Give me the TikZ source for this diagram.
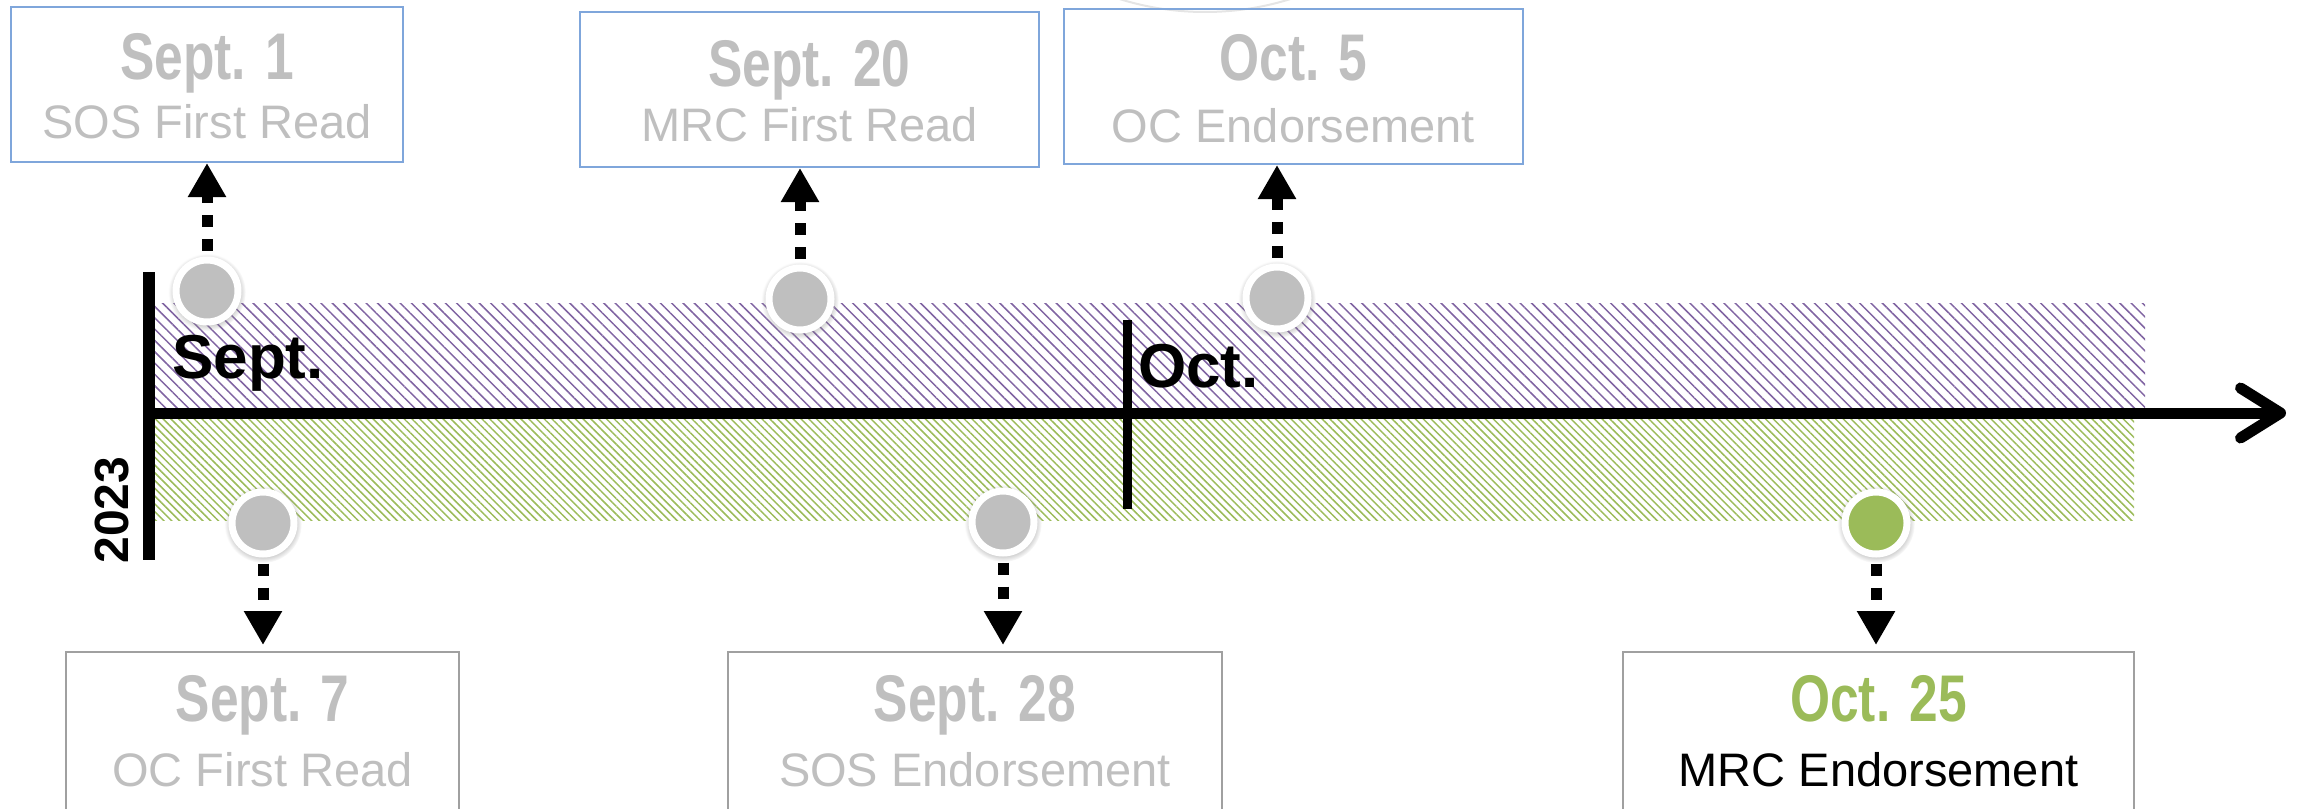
\documentclass[tikz,border=0pt]{standalone}
\usepackage{fontspec}
\setmainfont{Liberation Sans}
\newfontfamily\narrowfont[FakeStretch=0.78]{Liberation Sans}
\usepackage{tikz}
\usetikzlibrary{arrows.meta}
\usetikzlibrary{patterns.meta}
\usetikzlibrary{shadows}

\definecolor{dotgray}{HTML}{BFBFBF}
\definecolor{boxblue}{HTML}{7FA6DB}
\definecolor{boxgray}{HTML}{A0A0A0}
\definecolor{octgreen}{HTML}{9BBB59}
\definecolor{septpurple}{HTML}{8064A2}

\tikzset{
  topbox/.style={draw=boxblue, line width=2pt, minimum height=155pt, inner sep=0pt},
  botbox/.style={draw=boxgray, line width=2pt, minimum height=160pt, inner sep=0pt},
  dot/.style={circle, fill=dotgray, draw=white, line width=7pt, minimum size=62pt, inner sep=0pt,
    circular drop shadow={shadow scale=1.25, shadow xshift=0pt, shadow yshift=-1pt, opacity=.35}},
  datetext/.style={anchor=base, inner sep=0pt, text=dotgray, font=\narrowfont\bfseries\fontsize{66}{70}\selectfont},
  eventtext/.style={anchor=base, inner sep=0pt, text=dotgray, font=\fontsize{47}{52}\selectfont},
  link/.style={line width=11pt, dash pattern=on 12pt off 12pt, -{Triangle[length=34pt, width=36pt]}},
  month/.style={anchor=base west, inner sep=0pt, font=\bfseries\fontsize{62}{64}\selectfont},
}

\begin{document}
\begin{tikzpicture}[x=1pt, y=-1pt]
    \useasboundingbox (0, 0) rectangle (2298, 808);
    \clip (0, 0) rectangle (2298, 808);

    \draw[black!10, line width=2pt] (1205, -274) circle (286);

    \fill[pattern={Lines[angle=-45, distance=8pt, line width=1.5pt]}, pattern color=septpurple]
        (155, 303) rectangle (2145, 413);
    \fill[pattern={Lines[angle=-45, distance=5.5pt, line width=1.5pt]}, pattern color=octgreen]
        (155, 413) rectangle (2134, 520);

    \draw[line width=12pt] (149, 272) -- (149, 560);
    \draw[line width=9pt] (1127, 320) -- (1127, 509);
    \draw[line width=11pt, -{Straight Barb[round, length=40pt, width=50pt]}] (143, 413) -- (2286, 413);

    \node[month] (sept) at (172, 378) {Sept.};
    \node[month] (oct) at (1138, 387) {Oct.};
    \node[rotate=90, font=\bfseries\fontsize{48}{50}\selectfont] (year) at (112, 510) {2023};

    \node[topbox, minimum width=392pt] (b1) at (207, 84.5) {};
    \node[topbox, minimum width=459pt] (b2) at (809.5, 89.5) {};
    \node[topbox, minimum width=459pt] (b3) at (1293.5, 86.5) {};
    \node[botbox, minimum width=393pt] (b4) at (262.5, 732) {};
    \node[botbox, minimum width=494pt] (b5) at (975, 732) {};
    \node[botbox, minimum width=511pt] (b6) at (1878.5, 732) {};

    \node[datetext] (t1) at ([yshift=-73pt]b1.north) {Sept. 1};
    \node[eventtext] (e1) at ([yshift=-132pt]b1.north) {SOS First Read};
    \node[datetext] (t2) at ([yshift=-75pt]b2.north) {Sept. 20};
    \node[eventtext] (e2) at ([yshift=-130pt]b2.north) {MRC First Read};
    \node[datetext] (t3) at ([yshift=-73pt]b3.north) {Oct. 5};
    \node[eventtext] (e3) at ([yshift=-134pt]b3.north) {OC Endorsement};
    \node[datetext] (t4) at ([yshift=-70pt]b4.north) {Sept. 7};
    \node[eventtext] (e4) at ([yshift=-135pt]b4.north) {OC First Read};
    \node[datetext] (t5) at ([yshift=-70pt]b5.north) {Sept. 28};
    \node[eventtext] (e5) at ([yshift=-135pt]b5.north) {SOS Endorsement};
    \node[datetext, text=octgreen] (t6) at ([yshift=-70pt]b6.north) {Oct. 25};
    \node[eventtext, text=black] (e6) at ([yshift=-135pt]b6.north) {MRC Endorsement};

    \node[dot] (c1) at (207, 291) {};
    \node[dot] (c2) at (800, 299) {};
    \node[dot] (c3) at (1277, 298) {};
    \node[dot] (c4) at (263, 523) {};
    \node[dot] (c5) at (1003, 522) {};
    \node[dot, fill=octgreen] (c6) at (1876, 523) {};

    \draw[link, shorten <=6pt] (c1.north) -- (c1.north |- b1.south);
    \draw[link, shorten <=6pt] (c2.north) -- (c2.north |- b2.south);
    \draw[link, shorten <=6pt] (c3.north) -- (c3.north |- b3.south);
    \draw[link, shorten <=6pt, shorten >=6pt] (c4.south) -- (c4.south |- b4.north);
    \draw[link, shorten <=6pt, shorten >=6pt] (c5.south) -- (c5.south |- b5.north);
    \draw[link, shorten <=6pt, shorten >=6pt] (c6.south) -- (c6.south |- b6.north);
\end{tikzpicture}
\end{document}
